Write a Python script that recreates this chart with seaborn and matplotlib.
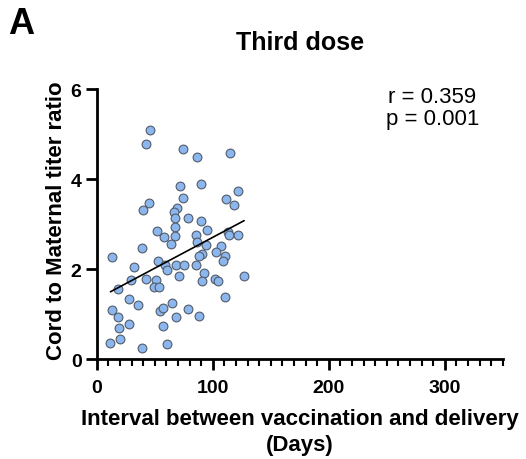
import numpy as np
import pandas as pd
import matplotlib
matplotlib.use("Agg")
import matplotlib.pyplot as plt
import seaborn as sns
from matplotlib.ticker import MultipleLocator

# interval (days) and cord/maternal titer ratio
interval_days = [
    45.7, 42.8, 74.1, 86.8, 115.2, 71.8, 89.9, 121.3, 74.1, 111.8,
    118.1, 45.1, 39.9, 69.0, 66.7, 67.0, 79.0, 89.9, 67.8, 95.1,
    52.0, 58.3, 67.0, 63.8, 85.1, 86.8, 94.2, 113.5, 114.1, 121.3,
    107.2, 102.9, 110.3, 109.2, 90.8, 88.5, 38.8, 13.5, 52.9, 58.9,
    60.6, 68.1, 75.3, 85.1, 31.9, 92.2, 71.0, 42.8, 51.1, 29.9,
    102.0, 104.3, 91.1, 127.0, 49.4, 54.0, 18.1, 110.1, 27.9, 35.9,
    13.5, 54.3, 57.2, 64.9, 79.0, 18.1, 68.1, 87.9, 27.9, 19.0,
    56.9, 19.8, 11.8, 38.8, 60.9,
]
titer_ratio = [
    5.09, 4.78, 4.68, 4.50, 4.58, 3.85, 3.90, 3.73, 3.59, 3.55,
    3.42, 3.47, 3.31, 3.36, 3.26, 3.13, 3.14, 3.06, 2.94, 2.87,
    2.84, 2.71, 2.73, 2.56, 2.76, 2.61, 2.53, 2.83, 2.76, 2.77,
    2.51, 2.39, 2.30, 2.19, 2.34, 2.30, 2.47, 2.27, 2.18, 2.10,
    1.99, 2.09, 2.10, 2.10, 2.04, 1.91, 1.84, 1.79, 1.77, 1.76,
    1.78, 1.73, 1.73, 1.84, 1.61, 1.60, 1.56, 1.39, 1.33, 1.21,
    1.10, 1.08, 1.13, 1.25, 1.11, 0.93, 0.93, 0.95, 0.79, 0.70,
    0.73, 0.45, 0.37, 0.25, 0.33,
]
r_text = "r = 0.359\np = 0.001"

df = pd.DataFrame({"days": interval_days, "ratio": titer_ratio})

sns.set_style("ticks")
plt.rcParams["font.family"] = ["Liberation Sans", "DejaVu Sans"]
plt.rcParams["text.color"] = "black"
plt.rcParams["axes.labelcolor"] = "black"
plt.rcParams["xtick.color"] = "black"
plt.rcParams["ytick.color"] = "black"

fig = plt.figure(figsize=(5.26, 4.6), dpi=100)
ax = fig.add_axes([0.184, 0.217, 0.772, 0.587])

sns.regplot(
    data=df, x="days", y="ratio", ax=ax, ci=None,
    scatter_kws=dict(s=40, color="#8bb6ee", edgecolor="#525c6a",
                     linewidths=0.8, alpha=1, zorder=3),
    line_kws=dict(color="black", lw=1.2, zorder=4),
)

ax.set_xlim(0, 350)
ax.set_ylim(0, 6)
ax.set_xticks([0, 100, 200, 300])
ax.set_yticks([0, 2, 4, 6])
ax.xaxis.set_minor_locator(MultipleLocator(10))
for side in ["top", "right"]:
    ax.spines[side].set_visible(False)
for side in ["left", "bottom"]:
    ax.spines[side].set_linewidth(2)
    ax.spines[side].set_color("black")
ax.tick_params(which="major", length=8, width=2, labelsize=14, pad=3)
ax.tick_params(axis="x", which="major", pad=6)
ax.tick_params(which="minor", length=5, width=1.5)
for lbl in ax.get_xticklabels() + ax.get_yticklabels():
    lbl.set_fontweight("bold")

ax.set_xlabel("Interval between vaccination and delivery\n(Days)",
              fontsize=16, fontweight="bold", linespacing=1.35)
ax.xaxis.set_label_coords(0.5, -0.18)
ax.set_ylabel("Cord to Maternal titer ratio", fontsize=16, fontweight="bold")
ax.yaxis.set_label_coords(-0.074, 0.515)

fig.text(0.57, 0.907, "Third dose", fontsize=18, fontweight="bold",
         ha="center", va="center")
ax.text(0.826, 1.013, r_text, transform=ax.transAxes, ha="center", va="top",
        fontsize=16, linespacing=1.1)
fig.text(0.015, 0.985, "A", fontsize=26, fontweight="bold", va="top")

fig.savefig("out.png", dpi=100)
